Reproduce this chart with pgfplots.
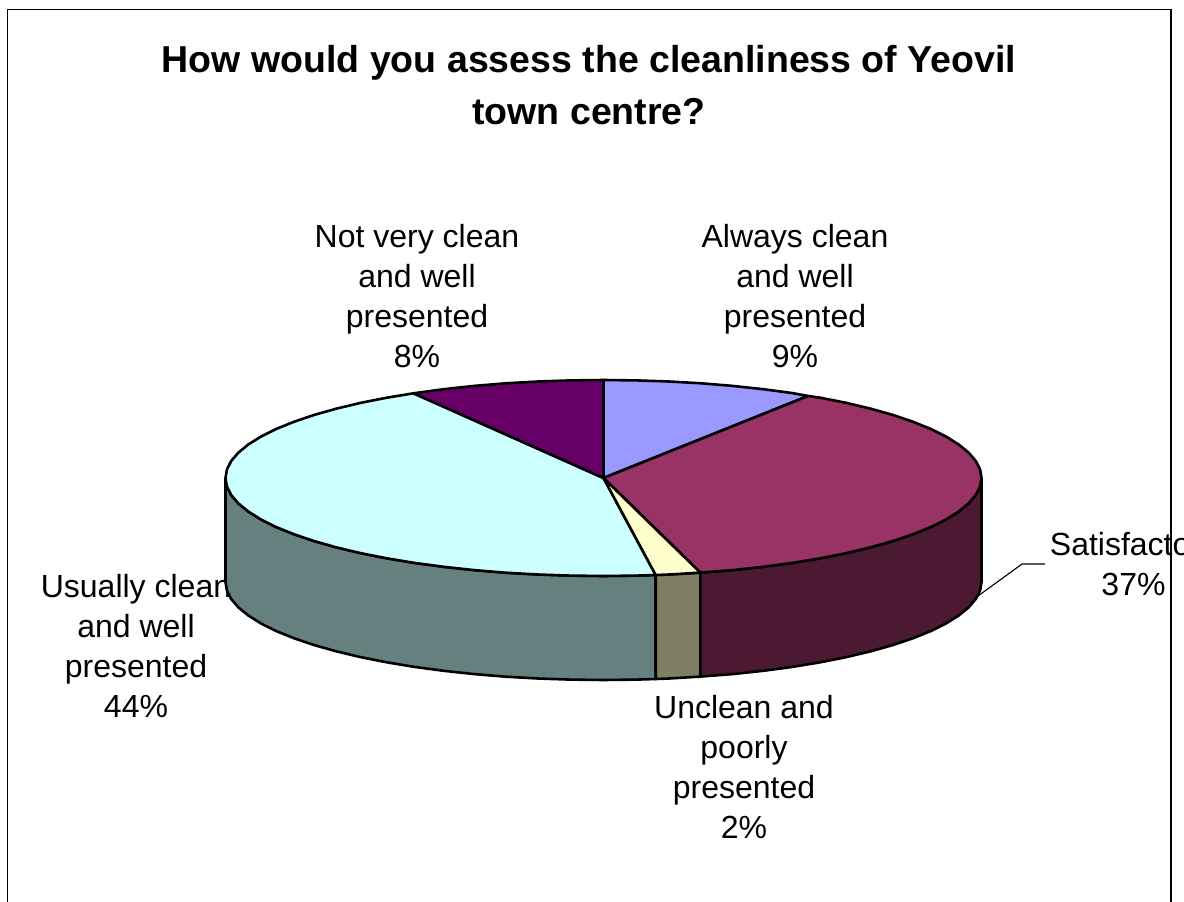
\documentclass[border=0pt]{standalone}
\usepackage{pgfplots}
\pgfplotsset{compat=1.18}
\usepackage{fontspec}
\setmainfont{Liberation Sans}
\definecolor{cAlways}{HTML}{9999FF}
\definecolor{cSat}{HTML}{993366}
\definecolor{cSatD}{HTML}{4C1933}
\definecolor{cUnc}{HTML}{FFFFCC}
\definecolor{cUncD}{HTML}{7F7F66}
\definecolor{cUsu}{HTML}{CCFFFF}
\definecolor{cUsuD}{HTML}{667F7F}
\definecolor{cNot}{HTML}{660066}
\pgfplotsset{canvas/.style={hide axis,scale only axis,width=1184pt,height=902pt,xmin=0,xmax=1184,ymin=0,ymax=902,y dir=reverse,clip=true},
 seg/.style={draw=black,line width=2.6pt,line join=round}}
\tikzset{lab/.style={align=center,font=\fontsize{32}{40}\selectfont,inner sep=0pt}}
\begin{document}
\begin{tikzpicture}
\useasboundingbox (0,0) rectangle (1184pt,902pt);
\clip (0,0) rectangle (1184pt,902pt);
\begin{axis}[canvas]
\node[align=center,inner sep=0pt,font=\fontsize{37.5}{52}\bfseries\selectfont] at (axis cs:589,85) {How would you assess the cleanliness of Yeovil\\town centre?};
\node[lab] at (axis cs:417,296) {Not very clean\\and well\\presented\\8\%};
\node[lab] at (axis cs:795,296) {Always clean\\and well\\presented\\9\%};
\node[lab] at (axis cs:1133.5,564) {Satisfactory\\37\%};
\node[lab] at (axis cs:136,646) {Usually clean\\and well\\presented\\44\%};
\node[lab] at (axis cs:744,767) {Unclean and\\poorly\\presented\\2\%};
\end{axis}
\begin{axis}[canvas]
% chart area frame
\addplot[draw=black,line width=1.7pt] coordinates {(7.5,910) (7.5,9.5) (1170.7,9.5) (1170.7,910)};
% leader line
\addplot[draw=black,line width=1.1pt] coordinates {(978,596) (1022,564) (1045,564)};
% walls
\addplot[seg,fill=cUsuD] coordinates {(225.5,478) (226.9,486.5) (231.2,495) (238.4,503.4) (248.3,511.5) (260.9,519.4) (276.1,527) (293.9,534.2) (313.9,541) (336.2,547.3) (360.5,553.1) (386.7,558.3) (414.5,562.9) (443.7,566.8) (474.2,570.1) (505.7,572.7) (537.9,574.5) (570.5,575.6) (603.5,576) (636.5,575.6) (655.7,575)
 (655.7,679) (636.5,679.6) (603.5,680) (570.5,679.6) (537.9,678.5) (505.7,676.7) (474.2,674.1) (443.7,670.8) (414.5,666.9) (386.7,662.3) (360.5,657.1) (336.2,651.3) (313.9,645) (293.9,638.2) (276.1,631) (260.9,623.4) (248.3,615.5) (238.4,607.4) (231.2,599) (226.9,590.5) (225.5,582)} -- cycle;
\addplot[seg,fill=cUncD] coordinates {(655.7,575) (669.1,574.5) (700.3,572.6) (700.3,676.6) (669.1,678.5) (655.7,679)} -- cycle;
\addplot[seg,fill=cSatD] coordinates {(700.3,572.6) (732.8,570.1) (763.3,566.8) (792.5,562.9) (820.3,558.3) (846.5,553.1) (870.8,547.3) (893.1,541) (913.1,534.2) (930.9,527) (946.1,519.4) (958.7,511.5) (968.6,503.4) (975.8,495) (980.1,486.5) (981.5,478)
 (981.5,582) (980.1,590.5) (975.8,599) (968.6,607.4) (958.7,615.5) (946.1,623.4) (930.9,631) (913.1,638.2) (893.1,645) (870.8,651.3) (846.5,657.1) (820.3,662.3) (792.5,666.9) (763.3,670.8) (732.8,674.1) (700.3,676.6)} -- cycle;
% top faces
\addplot[seg,fill=cUsu] coordinates {(603.5,478) (413.5,393.3) (386.7,397.7) (360.5,402.9) (336.2,408.7) (313.9,415) (293.9,421.8) (276.1,429) (260.9,436.6) (248.3,444.5) (238.4,452.6) (231.2,461) (226.9,469.5) (225.5,478) (226.9,486.5) (231.2,495) (238.4,503.4) (248.3,511.5) (260.9,519.4) (276.1,527) (293.9,534.2) (313.9,541) (336.2,547.3) (360.5,553.1) (386.7,558.3) (414.5,562.9) (443.7,566.8) (474.2,570.1) (505.7,572.7) (537.9,574.5) (570.5,575.6) (603.5,576) (636.5,575.6) (655.7,575)} -- cycle;
\addplot[seg,fill=cNot] coordinates {(603.5,478) (603.5,380) (570.5,380.4) (537.9,381.5) (505.7,383.3) (474.2,385.9) (443.7,389.2) (413.5,393.3)} -- cycle;
\addplot[seg,fill=cAlways] coordinates {(603.5,478) (603.5,380) (636.5,380.4) (669.1,381.5) (701.3,383.3) (732.8,385.9) (763.3,389.2) (792.5,393.1) (808,396)} -- cycle;
\addplot[seg,fill=cSat] coordinates {(603.5,478) (808,396) (820.3,397.7) (846.5,402.9) (870.8,408.7) (893.1,415) (913.1,421.8) (930.9,429) (946.1,436.6) (958.7,444.5) (968.6,452.6) (975.8,461) (980.1,469.5) (981.5,478) (980.1,486.5) (975.8,495) (968.6,503.4) (958.7,511.5) (946.1,519.4) (930.9,527) (913.1,534.2) (893.1,541) (870.8,547.3) (846.5,553.1) (820.3,558.3) (792.5,562.9) (763.3,566.8) (732.8,570.1) (700.3,572.6)} -- cycle;
\addplot[seg,fill=cUnc] coordinates {(603.5,478) (700.3,572.6) (669.1,574.5) (655.7,575)} -- cycle;
\end{axis}
\end{tikzpicture}
\end{document}
